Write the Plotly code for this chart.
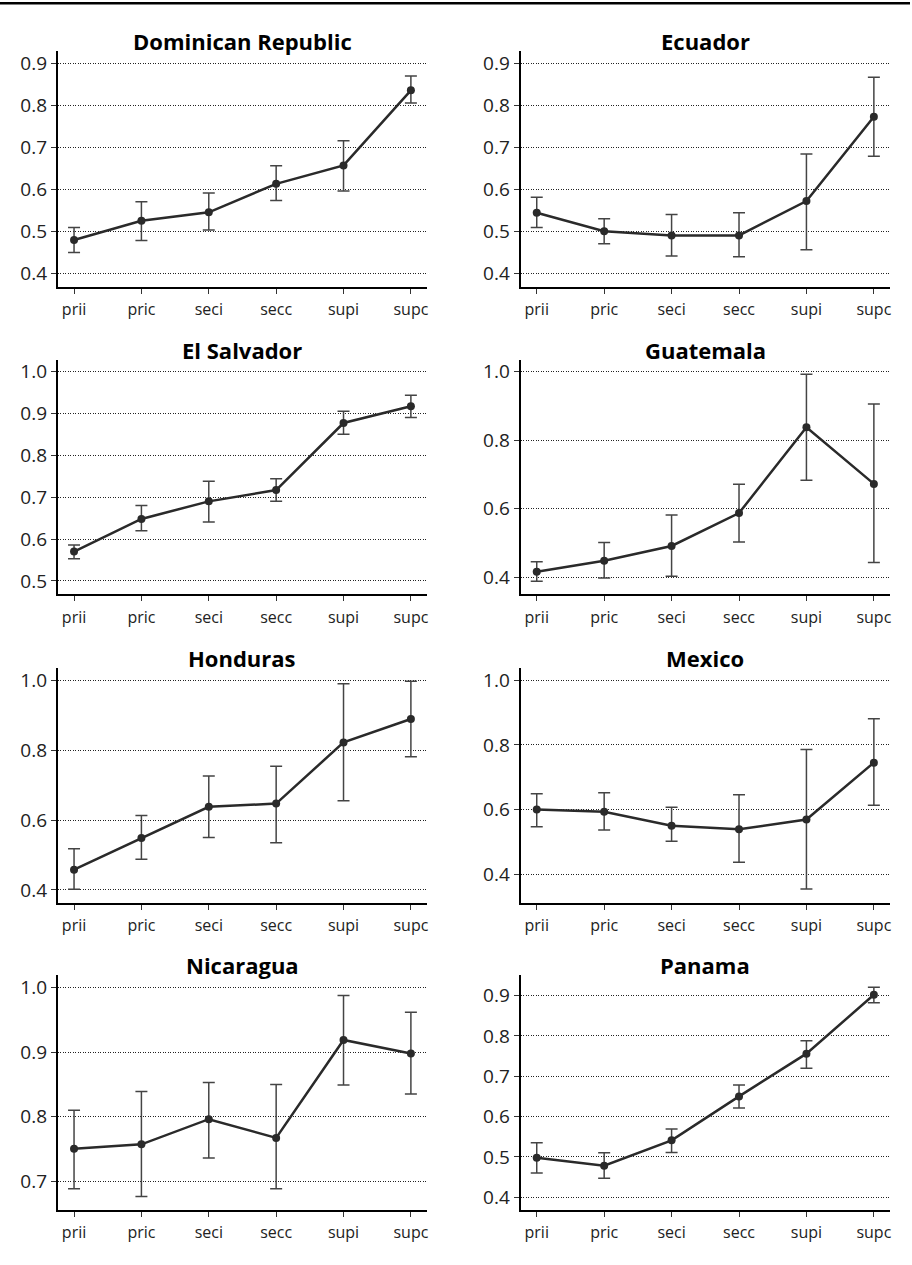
import plotly.graph_objects as go
import numpy as np

categories = ["prii", "pric", "seci", "secc", "supi", "supc"]

dom_mean = [0.479, 0.525, 0.545, 0.613, 0.657, 0.836]
dom_lo = [0.449, 0.478, 0.503, 0.573, 0.596, 0.806]
dom_hi = [0.509, 0.570, 0.591, 0.656, 0.716, 0.870]

ecu_mean = [0.544, 0.500, 0.490, 0.490, 0.572, 0.773]
ecu_lo = [0.509, 0.470, 0.441, 0.439, 0.456, 0.679]
ecu_hi = [0.581, 0.530, 0.540, 0.544, 0.684, 0.867]

sal_mean = [0.570, 0.648, 0.690, 0.717, 0.877, 0.917]
sal_lo = [0.553, 0.620, 0.641, 0.690, 0.850, 0.890]
sal_hi = [0.586, 0.680, 0.738, 0.744, 0.905, 0.943]

gua_mean = [0.416, 0.448, 0.491, 0.587, 0.837, 0.672]
gua_lo = [0.388, 0.398, 0.403, 0.503, 0.683, 0.443]
gua_hi = [0.445, 0.501, 0.581, 0.671, 0.992, 0.905]

hon_mean = [0.458, 0.549, 0.638, 0.647, 0.822, 0.889]
hon_lo = [0.402, 0.488, 0.550, 0.535, 0.655, 0.781]
hon_hi = [0.518, 0.613, 0.726, 0.754, 0.990, 0.997]

mex_mean = [0.600, 0.593, 0.550, 0.539, 0.569, 0.745]
mex_lo = [0.547, 0.537, 0.502, 0.437, 0.354, 0.613]
mex_hi = [0.649, 0.652, 0.607, 0.646, 0.786, 0.881]

nic_mean = [0.750, 0.757, 0.796, 0.767, 0.919, 0.898]
nic_lo = [0.688, 0.676, 0.736, 0.688, 0.849, 0.835]
nic_hi = [0.810, 0.839, 0.853, 0.850, 0.988, 0.962]

pan_mean = [0.498, 0.478, 0.541, 0.650, 0.756, 0.902]
pan_lo = [0.460, 0.447, 0.511, 0.621, 0.720, 0.882]
pan_hi = [0.535, 0.510, 0.569, 0.678, 0.788, 0.921]

panels = [
    ("Dominican Republic", dom_mean, dom_lo, dom_hi, [0.368, 0.93], 0.4, 0.1),
    ("Ecuador", ecu_mean, ecu_lo, ecu_hi, [0.368, 0.93], 0.4, 0.1),
    ("El Salvador", sal_mean, sal_lo, sal_hi, [0.468, 1.028], 0.5, 0.1),
    ("Guatemala", gua_mean, gua_lo, gua_hi, [0.35, 1.034], 0.4, 0.2),
    ("Honduras", hon_mean, hon_lo, hon_hi, [0.362, 1.034], 0.4, 0.2),
    ("Mexico", mex_mean, mex_lo, mex_hi, [0.31, 1.037], 0.4, 0.2),
    ("Nicaragua", nic_mean, nic_lo, nic_hi, [0.655, 1.019], 0.7, 0.1),
    ("Panama", pan_mean, pan_lo, pan_hi, [0.368, 0.95], 0.4, 0.1),
]

W, H = 912, 1265
col_px = [(58, 428), (521.7, 892)]
row_px = [(49, 285), (358.3, 593.3), (667.3, 902.7), (975, 1210)]

FONT = "Open Sans"
fig = go.Figure()
annotations = []
layout = {}
for i, (name, mean, lo, hi, yr, t0, dt) in enumerate(panels):
    r, c = divmod(i, 2)
    k = "" if i == 0 else str(i + 1)
    m = np.array(mean)
    fig.add_trace(go.Scatter(
        x=categories, y=mean, mode="lines+markers",
        line=dict(color="#2a2a2a", width=2.5),
        marker=dict(color="#2a2a2a", size=8),
        error_y=dict(type="data", symmetric=False,
                     array=(np.array(hi) - m).tolist(),
                     arrayminus=(m - np.array(lo)).tolist(),
                     color="#444444", thickness=1.5, width=6),
        xaxis="x" + k, yaxis="y" + k, showlegend=False,
    ))
    x0, x1 = col_px[c]
    yt, yb = row_px[r]
    layout["xaxis" + k] = dict(
        domain=[x0 / W, x1 / W], anchor="y" + k, type="category",
        categoryorder="array", categoryarray=categories,
        range=[-0.24, 5.24], showline=True, linewidth=2, linecolor="black",
        ticks="outside", ticklen=5, tickwidth=1, tickcolor="#333",
        showgrid=False, zeroline=False, ticklabelstandoff=2,
        tickfont=dict(family=FONT, size=16, color="#222"),
    )
    layout["yaxis" + k] = dict(
        domain=[1 - yb / H, 1 - yt / H], anchor="x" + k,
        range=yr, tick0=t0, dtick=dt, tickformat=".1f",
        showline=True, linewidth=2, linecolor="black",
        ticks="outside", ticklen=5, tickwidth=1, tickcolor="#333",
        showgrid=True, gridcolor="#222", griddash="1px,1.5px", gridwidth=1,
        zeroline=False,
        tickfont=dict(family=FONT, size=19, color="#222"),
    )
    annotations.append(dict(
        text="<b>%s</b>" % name, xref="paper", yref="paper",
        x=(x0 + x1) / 2 / W, y=1 - yt / H, xanchor="center", yanchor="bottom",
        showarrow=False, yshift=-7,
        font=dict(family=FONT, size=22, color="black"),
    ))

fig.update_layout(
    width=W, height=H, margin=dict(l=0, r=0, t=0, b=0),
    paper_bgcolor="white", plot_bgcolor="white",
    annotations=annotations,
    shapes=[dict(type="rect", xref="paper", yref="paper", x0=0, x1=1,
                 y0=1 - 2.5 / H, y1=1, fillcolor="black", line=dict(width=0))],
    **layout,
)
fig.write_html("out.html", config={"displayModeBar": False},
               post_script="document.body.style.margin='0';document.body.style.overflow='hidden';")
